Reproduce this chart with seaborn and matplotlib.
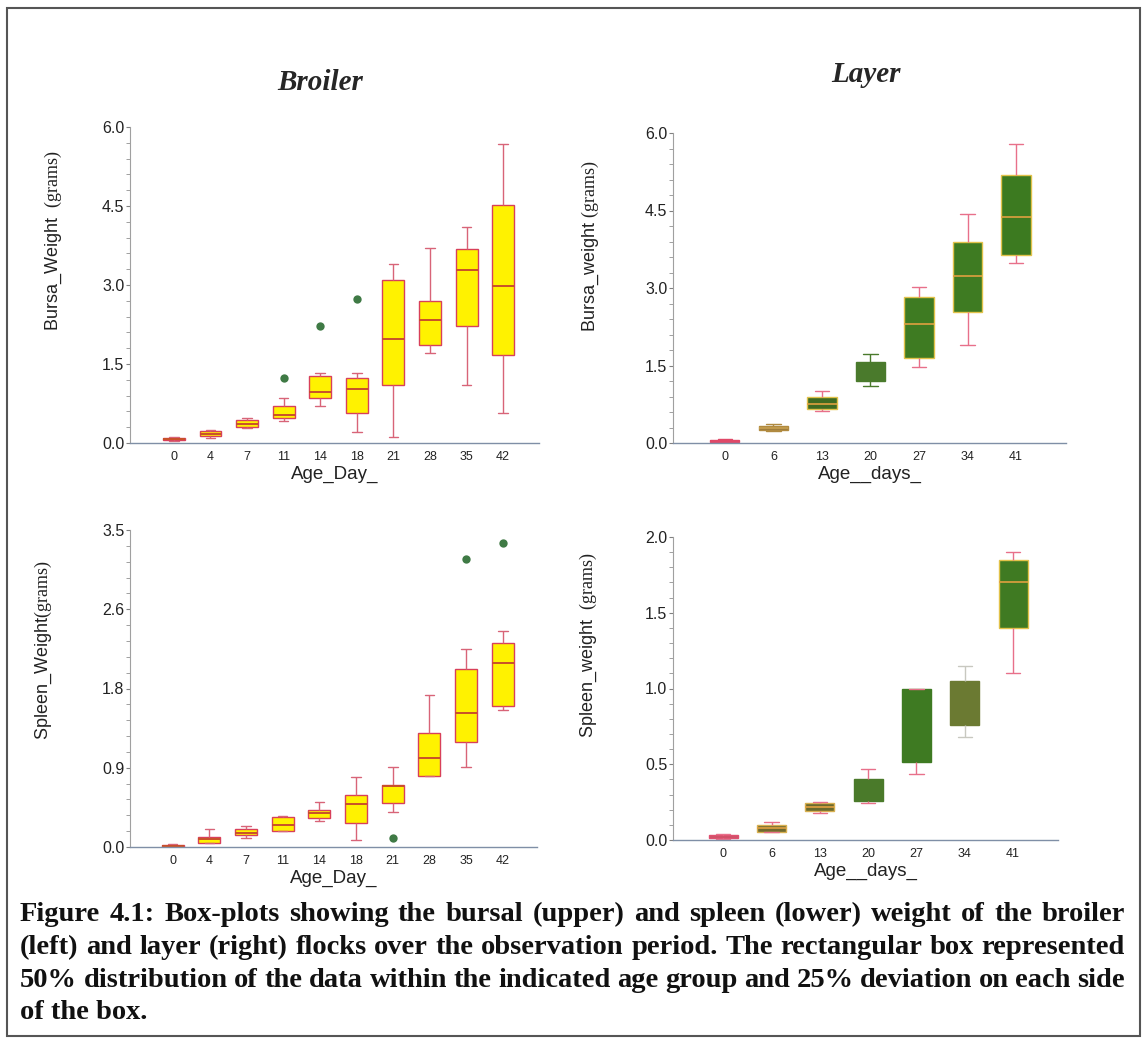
import numpy as np
import pandas as pd
import matplotlib
matplotlib.use("Agg")
import matplotlib.pyplot as plt
import seaborn as sns
from matplotlib.ticker import MultipleLocator, FormatStrFormatter
from matplotlib.patches import Rectangle

# ---- data (five-number summaries per age group) ----
broiler_days = [0, 4, 7, 11, 14, 18, 21, 28, 35, 42]
layer_days = [0, 6, 13, 20, 27, 34, 41]

broiler_bursa_min = [0.03, 0.09, 0.29, 0.41, 0.70, 0.21, 0.11, 1.70, 1.10, 0.57]
broiler_bursa_q1 = [0.05, 0.13, 0.30, 0.47, 0.86, 0.57, 1.10, 1.87, 2.23, 1.67]
broiler_bursa_med = [0.07, 0.17, 0.36, 0.53, 0.96, 1.02, 1.98, 2.34, 3.29, 2.98]
broiler_bursa_q3 = [0.09, 0.23, 0.43, 0.70, 1.28, 1.24, 3.10, 2.69, 3.69, 4.52]
broiler_bursa_max = [0.11, 0.25, 0.48, 0.85, 1.33, 1.33, 3.39, 3.70, 4.10, 5.67]
broiler_bursa_out_day = [11, 14, 18]
broiler_bursa_out_val = [1.24, 2.23, 2.74]

broiler_spleen_min = [0.00, 0.04, 0.10, 0.18, 0.29, 0.08, 0.385, 0.78, 0.88, 1.51]
broiler_spleen_q1 = [0.005, 0.048, 0.13, 0.18, 0.32, 0.27, 0.49, 0.78, 1.16, 1.56]
broiler_spleen_med = [0.01, 0.085, 0.16, 0.24, 0.37, 0.48, 0.67, 0.98, 1.48, 2.03]
broiler_spleen_q3 = [0.02, 0.114, 0.195, 0.33, 0.41, 0.57, 0.69, 1.26, 1.96, 2.25]
broiler_spleen_max = [0.03, 0.195, 0.23, 0.34, 0.50, 0.77, 0.885, 1.68, 2.185, 2.39]
broiler_spleen_out_day = [21, 35, 42]
broiler_spleen_out_val = [0.095, 3.18, 3.36]

layer_bursa_min = [0.02, 0.23, 0.62, 1.10, 1.48, 1.89, 3.48]
layer_bursa_q1 = [0.025, 0.25, 0.655, 1.20, 1.64, 2.54, 3.64]
layer_bursa_med = [0.04, 0.29, 0.75, 1.35, 2.31, 3.23, 4.37]
layer_bursa_q3 = [0.06, 0.33, 0.895, 1.56, 2.83, 3.90, 5.19]
layer_bursa_max = [0.07, 0.36, 1.01, 1.72, 3.02, 4.44, 5.78]

layer_spleen_min = [0.007, 0.05, 0.176, 0.243, 0.434, 0.68, 1.10]
layer_spleen_q1 = [0.011, 0.055, 0.194, 0.258, 0.514, 0.76, 1.40]
layer_spleen_med = [0.02, 0.077, 0.22, 0.33, 0.75, 0.90, 1.70]
layer_spleen_q3 = [0.033, 0.099, 0.243, 0.404, 1.00, 1.05, 1.85]
layer_spleen_max = [0.037, 0.117, 0.254, 0.47, 1.00, 1.147, 1.90]

caption_lines = [
    "Figure 4.1: Box-plots showing the bursal (upper) and spleen (lower) weight of the broiler",
    "(left) and layer (right) flocks over the observation period. The rectangular box represented",
    "50% distribution of the data within the indicated age group and 25% deviation on each side",
    "of the box.",
]

# ---- colours ----
yellow = "#FFF200"
red_edge = "#D8405A"
red_whisk = "#D86478"
red_median = "#C8502A"
out_green = "#3F7A45"
pink = "#E8708A"
gold = "#E2C24A"
orange = "#E0A040"

# per-box styles for the layer panels
layer_bursa_face = ["#E0506E", "#9C7A3C", "#3F6B22", "#4A7A2C", "#3E7B22", "#3E7B22", "#3C7A20"]
layer_bursa_edge = ["#E04868", "#B08A40", gold, "#4A7A2C", gold, gold, gold]
layer_bursa_whisk = ["#E04868", "#B08A40", pink, "#4A7A2C", pink, pink, pink]
layer_bursa_medc = ["#E04868", "#C8A050", orange, "#4A7A2C", orange, orange, orange]

layer_spleen_face = ["#6A6440", "#6F6A30", "#6A6A2E", "#4A7A2A", "#3E7A22", "#6B7A32", "#3F7A22"]
layer_spleen_edge = ["#E05070", "#D8B050", "#D8B050", "#4A7A2A", "#3E7A22", "#6B7A32", gold]
layer_spleen_whisk = [pink, pink, pink, pink, pink, "#C8C8C0", pink]
layer_spleen_medc = ["#E05070", orange, orange, "#4A7A2A", "#3E7A22", "#6B7A32", orange]

sns.set_theme(style="white")
plt.rcParams["font.family"] = ["Liberation Sans", "DejaVu Sans"]
plt.rcParams["mathtext.fontset"] = "custom"
plt.rcParams["mathtext.rm"] = "Liberation Serif"


def to_long(days, mins, q1s, meds, q3s, maxs):
    rows = []
    for d, a, b, c, e, f in zip(days, mins, q1s, meds, q3s, maxs):
        for v in (a, b, c, e, f):
            rows.append((d, v))
    return pd.DataFrame(rows, columns=["day", "weight"])


def style_axis(ax, major, minor, fmt, ylim, xlim):
    ax.set_ylim(*ylim)
    ax.set_xlim(*xlim)
    ax.yaxis.set_major_locator(MultipleLocator(major))
    ax.yaxis.set_minor_locator(MultipleLocator(minor))
    ax.yaxis.set_major_formatter(FormatStrFormatter(fmt))
    for s in ["top", "right"]:
        ax.spines[s].set_visible(False)
    ax.spines["left"].set_color("#A0A0A0")
    ax.spines["left"].set_linewidth(0.8)
    ax.spines["bottom"].set_color("#7F8FA6")
    ax.spines["bottom"].set_linestyle((0, (3, 1)))
    ax.spines["bottom"].set_linewidth(1.0)
    ax.tick_params(axis="y", which="major", length=3, width=0.8, color="#808080",
                   labelsize=11.5, labelcolor="#222222", pad=1, left=True)
    ax.tick_params(axis="y", which="minor", length=3, width=0.7, color="#A0A0A0", left=True)
    ax.tick_params(axis="x", length=0, labelsize=9, labelcolor="#222222", pad=6)


def broiler_panel(ax, df, out_day, out_val):
    sns.boxplot(data=df, x="day", y="weight", order=broiler_days, color=yellow, saturation=1,
                width=0.6, whis=(0, 100), showfliers=False, linecolor=red_edge, linewidth=1.0,
                whiskerprops=dict(color=red_whisk), capprops=dict(color=red_whisk),
                medianprops=dict(color=red_median, linewidth=1.4), capwidths=0.26, ax=ax)
    sns.stripplot(x=out_day, y=out_val, order=broiler_days, jitter=False, color=out_green,
                  size=6, linewidth=0, ax=ax, zorder=5)


def layer_panel(ax, df, faces, edges, whisks, medcs):
    for i, d in enumerate(layer_days):
        sub = df[df["day"] == d]
        sns.boxplot(data=sub, x="day", y="weight", order=layer_days, color=faces[i], saturation=1,
                    width=0.6, whis=(0, 100), showfliers=False, linewidth=1.0,
                    boxprops=dict(edgecolor=edges[i]),
                    whiskerprops=dict(color=whisks[i]), capprops=dict(color=whisks[i]),
                    medianprops=dict(color=medcs[i], linewidth=1.2), capwidths=0.3, ax=ax)


fig = plt.figure(figsize=(11.45, 10.41), dpi=100)
W, H = 1145, 1041


def rect(x0, x1, ytop, ybot):
    return [x0 / W, 1 - ybot / H, (x1 - x0) / W, (ybot - ytop) / H]


ax_tl = fig.add_axes(rect(130, 539, 127, 443))
ax_bl = fig.add_axes(rect(130, 537, 530, 847))
ax_tr = fig.add_axes(rect(673, 1066, 133, 443))
ax_br = fig.add_axes(rect(673, 1058, 537, 840))

df_bb = to_long(broiler_days, broiler_bursa_min, broiler_bursa_q1, broiler_bursa_med,
                broiler_bursa_q3, broiler_bursa_max)
df_bs = to_long(broiler_days, broiler_spleen_min, broiler_spleen_q1, broiler_spleen_med,
                broiler_spleen_q3, broiler_spleen_max)
df_lb = to_long(layer_days, layer_bursa_min, layer_bursa_q1, layer_bursa_med,
                layer_bursa_q3, layer_bursa_max)
df_ls = to_long(layer_days, layer_spleen_min, layer_spleen_q1, layer_spleen_med,
                layer_spleen_q3, layer_spleen_max)

broiler_panel(ax_tl, df_bb, broiler_bursa_out_day, broiler_bursa_out_val)
broiler_panel(ax_bl, df_bs, broiler_spleen_out_day, broiler_spleen_out_val)
layer_panel(ax_tr, df_lb, layer_bursa_face, layer_bursa_edge, layer_bursa_whisk, layer_bursa_medc)
layer_panel(ax_br, df_ls, layer_spleen_face, layer_spleen_edge, layer_spleen_whisk, layer_spleen_medc)

style_axis(ax_tl, 1.5, 0.3, "%.1f", (0, 6.0), (-1.2, 9.98))
style_axis(ax_bl, 0.875, 0.175, "%.1f", (0, 3.5), (-1.16, 9.93))
style_axis(ax_tr, 1.5, 0.3, "%.1f", (0, 6.0), (-1.07, 7.03))
style_axis(ax_br, 0.5, 0.1, "%.1f", (0, 2.0), (-1.04, 6.93))

ylabels = {
    ax_tl: (r"Bursa_Weight  $\mathrm{(grams)}$", -0.162, 0.64),
    ax_tr: (r"Bursa_weight $\mathrm{(grams)}$", -0.183, 0.634),
    ax_bl: (r"Spleen_Weight$\mathrm{(grams)}$", -0.187, 0.62),
    ax_br: (r"Spleen_weight  $\mathrm{(grams)}$", -0.192, 0.643),
}
for ax, (txt, lx, ly) in ylabels.items():
    ax.set_ylabel(txt, fontsize=13, color="#222222")
    ax.yaxis.set_label_coords(lx, ly)

xlabels = {ax_tl: "Age_Day_", ax_bl: "Age_Day_", ax_tr: "Age__days_", ax_br: "Age__days_"}
for ax, txt in xlabels.items():
    ax.set_xlabel(txt, fontsize=13.5, color="#222222")
    h_px = ax.get_position().height * H
    ax.xaxis.set_label_coords(0.5, -31 / h_px)
    ax.xaxis.label.set_va("center")

fig.text(320 / W, 1 - 83 / H, "Broiler", fontsize=21, family="Liberation Serif",
         weight="bold", style="italic", ha="center", va="center")
fig.text(866 / W, 1 - 75 / H, "Layer", fontsize=21, family="Liberation Serif",
         weight="bold", style="italic", ha="center", va="center")

# justified caption
fig.canvas.draw()
renderer = fig.canvas.get_renderer()
x_left, x_right = 20, 1125
baselines = [921, 954, 987, 1019]
cap_kw = dict(fontsize=20.5, family="Liberation Serif", weight="bold", color="#111111", va="baseline")
for k, line in enumerate(caption_lines):
    yb = 1 - baselines[k] / H
    words = line.split()
    if k == len(caption_lines) - 1:
        fig.text(x_left / W, yb, line, ha="left", **cap_kw)
        continue
    texts = [fig.text(0, yb, w, ha="left", **cap_kw) for w in words]
    widths = [t.get_window_extent(renderer).width for t in texts]
    gap = (x_right - x_left - sum(widths)) / (len(words) - 1)
    x = x_left
    for t, w in zip(texts, widths):
        t.set_x(x / W)
        x += w + gap

fig.add_artist(Rectangle((7 / W, 1 - 1036 / H), (1140 - 7) / W, (1036 - 8) / H,
                         transform=fig.transFigure, fill=False, edgecolor="#555555", linewidth=1.5))

fig.savefig("out.png", dpi=100, facecolor="white")
